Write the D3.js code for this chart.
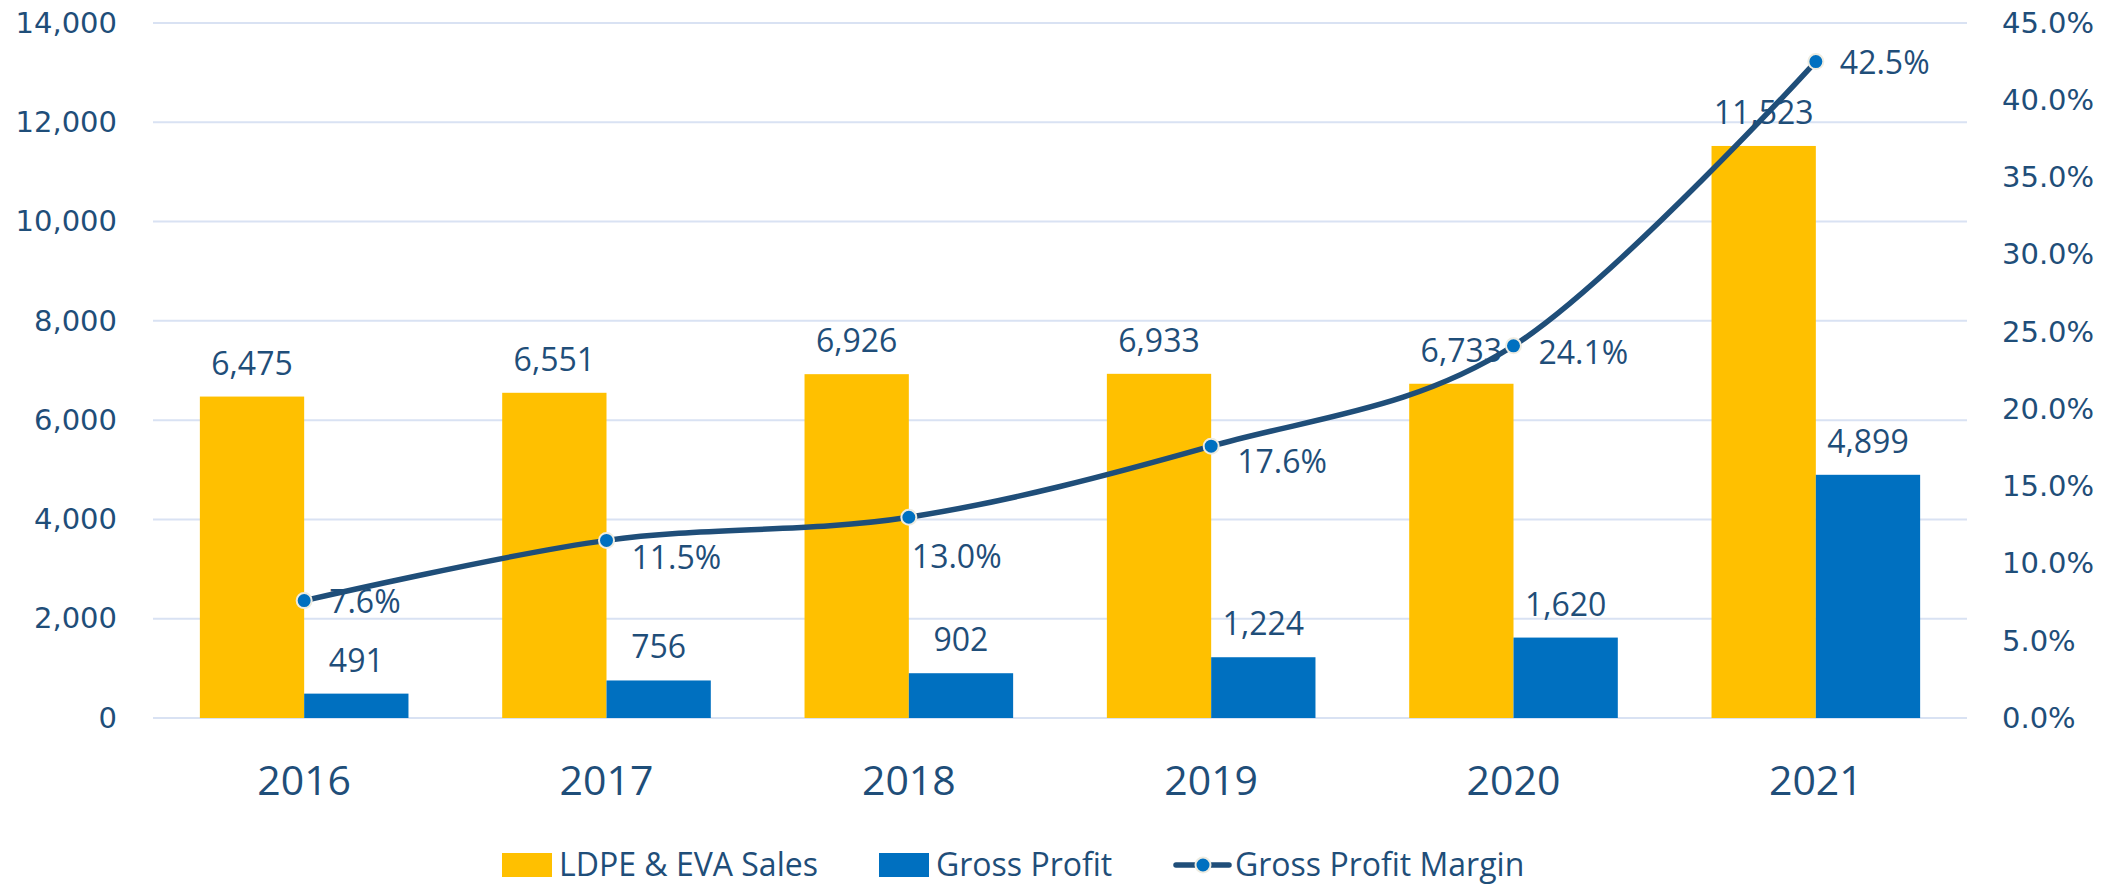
<!DOCTYPE html>
<html>
<head>
<meta charset="utf-8">
<script src="https://cdn.jsdelivr.net/npm/d3@7"></script>
<style>
  body { margin: 0; background: #fff; }
  svg { display: block; }
</style>
</head>
<body>
<svg id="chart"></svg>
<script>
// data
const years = ["2016", "2017", "2018", "2019", "2020", "2021"];
const sales = [6475, 6551, 6926, 6933, 6733, 11523];
const grossProfit = [491, 756, 902, 1224, 1620, 4899];
const profitMargin = [0.076, 0.115, 0.13, 0.176, 0.241, 0.425];
const salesTicks = [0, 2000, 4000, 6000, 8000, 10000, 12000, 14000];
const marginTicks = [0, 0.05, 0.1, 0.15, 0.2, 0.25, 0.3, 0.35, 0.4, 0.45];
const seriesNames = ["LDPE & EVA Sales", "Gross Profit", "Gross Profit Margin"];

// hand-placed margin labels (offset from the marker: dx, baseline dy)
const marginLabelShift = [[25, 12], [25, 29], [3, 51], [26, 27], [25, 18], [24, 12]];

let width = 2121;
let height = 886;
let plot = { left: 153, right: 1967, top: 23, bottom: 718 };

const textColor = "#1F4E79";
const lineColor = "#1F4E79";
const gridColor = "#D9E2F3";
const yellow = "#FFC000";
const blue = "#0070C0";
const labelFont = "'Open Sans', 'Noto Sans', sans-serif";
const tickFont = "'DejaVu Sans', Verdana, sans-serif";

let svg = d3.select("#chart").attr("width", width).attr("height", height);

let x = d3
  .scaleBand()
  .domain(years)
  .range([plot.left, plot.right])
  .paddingInner(0.31)
  .paddingOuter(0.155);
let xSub = d3
  .scaleBand()
  .domain(["sales", "gp"])
  .range([0, x.bandwidth()]);
let y = d3.scaleLinear().domain([0, 14000]).range([plot.bottom, plot.top]);
let y2 = d3.scaleLinear().domain([0, 0.45]).range([plot.bottom, plot.top]);

// gridlines
svg
  .append("g")
  .selectAll("line")
  .data(salesTicks)
  .enter()
  .append("line")
  .attr("x1", plot.left)
  .attr("x2", plot.right)
  .attr("y1", (d) => y(d))
  .attr("y2", (d) => y(d))
  .attr("stroke", gridColor)
  .attr("stroke-width", 2);

// axes
let leftAxis = svg
  .append("g")
  .attr("transform", `translate(${plot.left},0)`)
  .call(
    d3.axisLeft(y).tickValues(salesTicks).tickFormat(d3.format(",")).tickSize(0).tickPadding(36)
  );
let rightAxis = svg
  .append("g")
  .attr("transform", `translate(${plot.right},0)`)
  .call(
    d3.axisRight(y2).tickValues(marginTicks).tickFormat(d3.format(".1%")).tickSize(0).tickPadding(35)
  );
[leftAxis, rightAxis].forEach((a) => {
  a.select(".domain").remove();
  a.selectAll("text")
    .style("font-family", tickFont)
    .style("font-size", "29px")
    .attr("fill", textColor);
});

let bottomAxis = svg
  .append("g")
  .attr("transform", `translate(0,${plot.bottom})`)
  .call(d3.axisBottom(x).tickSize(0));
bottomAxis.select(".domain").remove();
bottomAxis
  .selectAll("text")
  .attr("y", 77)
  .attr("dy", 0)
  .style("font-family", labelFont)
  .style("font-size", "41px")
  .attr("fill", textColor);

// bars
let rows = years.map((yr, i) => ({
  year: yr,
  sales: sales[i],
  gp: grossProfit[i],
  margin: profitMargin[i],
  shift: marginLabelShift[i],
}));

let groups = svg
  .append("g")
  .selectAll("g")
  .data(rows)
  .enter()
  .append("g")
  .attr("transform", (d) => `translate(${x(d.year)},0)`);

let barDefs = [
  { key: "sales", color: yellow },
  { key: "gp", color: blue },
];

barDefs.forEach((b) => {
  groups
    .append("rect")
    .attr("x", xSub(b.key))
    .attr("y", (d) => y(d[b.key]))
    .attr("width", xSub.bandwidth())
    .attr("height", (d) => y(0) - y(d[b.key]))
    .attr("fill", b.color);
  groups
    .append("text")
    .attr("x", xSub(b.key) + xSub.bandwidth() / 2)
    .attr("y", (d) => y(d[b.key]) - 22)
    .attr("text-anchor", "middle")
    .style("font-family", labelFont)
    .style("font-size", "32px")
    .attr("fill", textColor)
    .text((d) => d3.format(",")(d[b.key]));
});

// margin labels
let cx = (d) => x(d.year) + x.bandwidth() / 2;
svg
  .append("g")
  .selectAll("text")
  .data(rows)
  .enter()
  .append("text")
  .attr("x", (d) => cx(d) + d.shift[0])
  .attr("y", (d) => y2(d.margin) + d.shift[1])
  .style("font-family", labelFont)
  .style("font-size", "32px")
  .attr("fill", textColor)
  .text((d) => d3.format(".1%")(d.margin));

// smoothed margin line
let line = d3
  .line()
  .x(cx)
  .y((d) => y2(d.margin))
  .curve(d3.curveCatmullRom.alpha(0));
svg
  .append("path")
  .datum(rows)
  .attr("d", line)
  .attr("fill", "none")
  .attr("stroke", lineColor)
  .attr("stroke-width", 5.5)
  .attr("stroke-linecap", "round");
svg
  .append("g")
  .selectAll("circle")
  .data(rows)
  .enter()
  .append("circle")
  .attr("cx", cx)
  .attr("cy", (d) => y2(d.margin))
  .attr("r", 7.5)
  .attr("fill", blue)
  .attr("stroke", "#EEECE1")
  .attr("stroke-width", 2);

// legend
let legend = svg.append("g").attr("transform", "translate(0,876)");
let legendText = (xPos, label) =>
  legend
    .append("text")
    .attr("x", xPos)
    .attr("y", 0)
    .style("font-family", labelFont)
    .style("font-size", "32px")
    .attr("fill", textColor)
    .text(label);

legend.append("rect").attr("x", 502).attr("y", -23).attr("width", 50).attr("height", 24).attr("fill", yellow);
legendText(559, seriesNames[0]);
legend.append("rect").attr("x", 879).attr("y", -23).attr("width", 50).attr("height", 24).attr("fill", blue);
legendText(936, seriesNames[1]);
legend
  .append("line")
  .attr("x1", 1176)
  .attr("x2", 1229)
  .attr("y1", -11)
  .attr("y2", -11)
  .attr("stroke", lineColor)
  .attr("stroke-width", 5.5)
  .attr("stroke-linecap", "round");
legend
  .append("circle")
  .attr("cx", 1203)
  .attr("cy", -11)
  .attr("r", 7.5)
  .attr("fill", blue)
  .attr("stroke", "#EEECE1")
  .attr("stroke-width", 2);
legendText(1235, seriesNames[2]);
</script>
</body>
</html>
